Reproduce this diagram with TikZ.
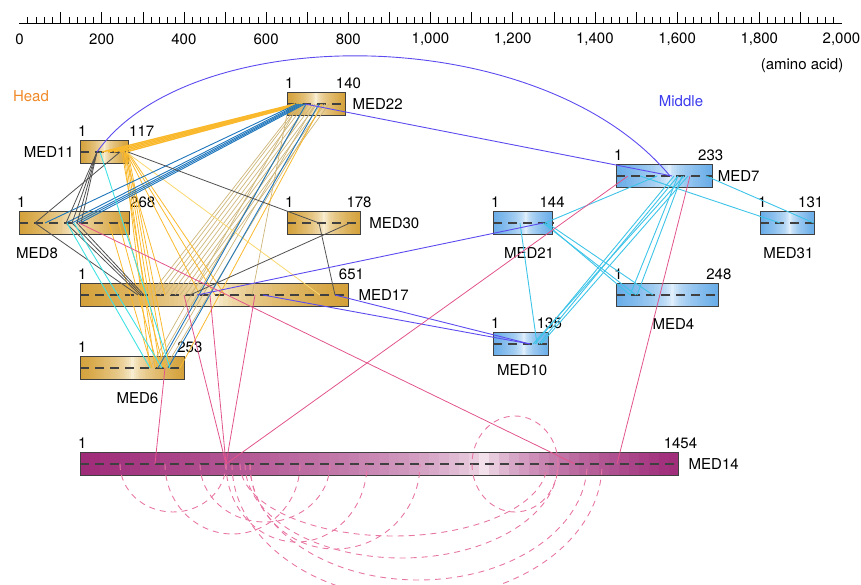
\documentclass[tikz,border=0pt]{standalone}
\usepackage{fontspec}
\setmainfont{TeX Gyre Heros}
\usepackage{tikz}
\usetikzlibrary{positioning, calc, backgrounds}
\definecolor{headgold}{RGB}{212,160,56}
\definecolor{headlight}{RGB}{253,247,230}
\definecolor{midblue}{RGB}{104,172,232}
\definecolor{midlight}{RGB}{238,247,254}
\definecolor{medmag}{RGB}{158,42,120}
\definecolor{medmaglight}{RGB}{249,240,245}
\definecolor{linkorange}{RGB}{250,185,45}
\definecolor{linkyellow}{RGB}{250,215,110}
\definecolor{linkblue}{RGB}{30,118,188}
\definecolor{linktan}{RGB}{206,182,122}
\definecolor{linkgray}{RGB}{80,80,80}
\definecolor{linkcyan}{RGB}{64,226,228}
\definecolor{linksky}{RGB}{62,196,232}
\definecolor{linkpurple}{RGB}{92,76,240}
\definecolor{linkpink}{RGB}{226,84,140}
\definecolor{headtext}{RGB}{240,138,40}
\definecolor{midtext}{RGB}{58,58,238}

% strip gradient: node, edge colour, light colour, position of the light part
\newcommand{\gradfill}[4]{%
  \foreach \i in {0,...,59}{%
    \pgfmathsetmacro{\gpos}{(\i+0.5)/60}%
    \pgfmathsetmacro{\gdist}{\gpos<#4 ? (1-\gpos/#4) : (\gpos-#4)/(1-#4)}%
    \pgfmathtruncatemacro{\gmix}{100*sqrt(\gdist)}%
    \fill[#2!\gmix!#3] ($(#1.south west)!{\i/60}!(#1.south east)$)
      rectangle ($(#1.north west)!{min(1,(\i+1.3)/60)}!(#1.north east)$);
  }}

\begin{document}
\begin{tikzpicture}[x=1pt, y=-1pt, font=\fontsize{15}{18}\selectfont,
    protein/.style={draw=black!75, line width=0.9pt, inner sep=0pt,
      minimum height=23pt, minimum width=#1*0.411pt, anchor=west},
    centerline/.style={draw=black!75, line width=1.1pt, dash pattern=on 9pt off 6pt},
    numlabel/.style={inner sep=0pt},
    protlabel/.style={inner sep=0pt},
    orangelink/.style={draw=linkorange, line width=0.8pt},
    tanlink/.style={draw=linktan, line width=0.7pt},
    bluelink/.style={draw=linkblue, line width=0.9pt},
    graylink/.style={draw=linkgray, line width=0.8pt},
    cyanlink/.style={draw=linkcyan, line width=0.9pt},
    skylink/.style={draw=linksky, line width=0.9pt},
    purplelink/.style={draw=linkpurple, line width=0.9pt},
    pinklink/.style={draw=linkpink, line width=0.8pt},
    loopline/.style={draw=linkpink!80, line width=0.9pt, dash pattern=on 6pt off 5pt}]

  \useasboundingbox (0,0) rectangle (861,585);

  % RULER

  \draw[line width=0.8pt] (19,23) -- (842,23);
  \foreach \a in {20,40,...,1980}
    \draw[line width=0.6pt] ({19.5+0.411*\a},23) -- ++(0,-6);
  \foreach \a in {100,200,...,1900}
    \draw[line width=0.6pt] ({19.5+0.411*\a},23) -- ++(0,-11);
  \foreach \a/\l in {0/0,200/200,400/400,600/600,800/800,1000/{1,000},
      1200/{1,200},1400/{1,400},1600/{1,600},1800/{1,800},2000/{2,000}}
    \node at ({19.5+0.411*\a},39) {\l};
  \node (unit) at (802,66) {(amino acid)};

  \node[text=headtext] (headlabel) at (31,96) {Head};
  \node[text=midtext] (middlelabel) at (681,101) {Middle};

  % PROTEINS

  \node[protein=140] (med22) at (287,104) {};
  \node[protein=117] (med11) at (80,152) {};
  \node[protein=268] (med8) at (19,223) {};
  \node[protein=178] (med30) at (287,223) {};
  \node[protein=651] (med17) at (80,295) {};
  \node[protein=253] (med6) at (80,368) {};
  \node[protein=1454] (med14) at (80,464) {};
  \node[protein=233] (med7) at (616,176) {};
  \node[protein=144] (med21) at (493,223) {};
  \node[protein=131] (med31) at (760,223) {};
  \node[protein=248] (med4) at (616,295) {};
  \node[protein=135] (med10) at (493,344) {};

  \begin{scope}[on background layer]
    \foreach \p in {med22,med11,med8,med30,med17,med6}{\gradfill{\p}{headgold}{headlight}{0.5}}
    \foreach \p in {med7,med21,med31,med4,med10}{\gradfill{\p}{midblue}{midlight}{0.55}}
    \gradfill{med14}{medmag}{medmaglight}{0.68}
  \end{scope}

  \foreach \p in {med22,med11,med8,med30,med17,med6,med14,med7,med21,med31,med4,med10}
    \draw[centerline] (\p.west) -- (\p.east);

  % LABELS

  \node[protlabel, right=7pt of med22] {MED22};
  \node[protlabel, left=6pt of med11] {MED11};
  \node[protlabel, below right=12pt and -3pt of med8.south west] {MED8};
  \node[protlabel, right=8pt of med30] {MED30};
  \node[protlabel, right=10pt of med17] {MED17};
  \node[protlabel, below=12pt of med6, xshift=5pt] {MED6};
  \node[protlabel, right=10pt of med14] {MED14};
  \node[protlabel, right=5pt of med7] {MED7};
  \node[protlabel, below=12pt of med21, xshift=6pt] {MED21};
  \node[protlabel, below=12pt of med31, xshift=1pt] {MED31};
  \node[protlabel, below=11pt of med4, xshift=6pt] {MED4};
  \node[protlabel, below=8pt of med10, xshift=1pt] {MED10};

  \foreach \p in {med22,med11,med8,med30,med17,med6,med14,med7,med21,med31,med4,med10}
    \node[numlabel, above right=3pt and -2pt of \p.north west] {1};
  \node[numlabel, above=3pt of med22.north east, xshift=3pt] {140};
  \node[numlabel, above right=3pt and 0pt of med11.north east] {117};
  \node[numlabel, above right=3pt and 0pt of med8.north east] {268};
  \node[numlabel, above=3pt of med30.north east, xshift=-2pt] {178};
  \node[numlabel, above=3pt of med17.north east, xshift=3pt] {651};
  \node[numlabel, above=3pt of med6.north east, xshift=5pt] {253};
  \node[numlabel, above=3pt of med14.north east, xshift=2pt] {1454};
  \node[numlabel, above=3pt of med7.north east, xshift=-2pt] {233};
  \node[numlabel, above=3pt of med21.north east, xshift=-1pt] {144};
  \node[numlabel, above=3pt of med31.north east, xshift=-4pt] {131};
  \node[numlabel, above=3pt of med4.north east] {248};
  \node[numlabel, above=3pt of med10.north east] {135};

  % HEAD LINKS

  \foreach \a/\b in {70/12,75/14,80/18,85/22,90/26,95/30,100/34,105/38,110/42}
    \draw[tanlink] ([xshift=\b]med22.west) -- ([xshift=\a]med17.west);
  \foreach \a/\b in {70/12,75/20,80/28,85/36}
    \draw[tanlink] ([xshift=\b]med22.west) -- ([xshift=\a]med6.west);
  \draw[tanlink] ([xshift=2]med22.west) -- ([xshift=172]med17.west);

  \foreach \a/\b in {22/8,28/10,34/12,40/14,46/16}
    \draw[orangelink, line width=1.4pt] ([xshift=\a]med11.west) -- ([xshift=\b]med22.west);
  \foreach \a/\b in {44/70,45/75,46/80,47/85,48/90}
    \draw[orangelink] ([xshift=\a]med11.west) -- ([xshift=\b]med6.west);
  \foreach \a/\b in {42/66,44/85,46/120,47/135,48/145}
    \draw[orangelink] ([xshift=\a]med11.west) -- ([xshift=\b]med17.west);
  \foreach \a/\b in {90/72,100/78,106/84}
    \draw[orangelink] ([xshift=\a]med8.west) -- ([xshift=\b]med6.west);
  \draw[orangelink] ([xshift=35]med22.west) -- ([xshift=100]med6.west);
  \draw[draw=linkyellow, line width=0.8pt] ([xshift=46]med11.west) -- ([xshift=240]med17.west);

  \foreach \a/\b in {26/10,47/12,53/14,57/16,61/18}
    \draw[bluelink] ([xshift=\a]med8.west) -- ([xshift=\b]med22.west);
  \draw[bluelink] ([xshift=19]med22.west) -- ([xshift=78]med6.west);
  \draw[bluelink] ([xshift=32]med22.west) -- ([xshift=88]med6.west);

  \foreach \b in {47,53,58,62}
    \draw[graylink] ([xshift=17]med11.west) -- ([xshift=\b]med8.west);
  \draw[graylink] ([xshift=40]med11.west) -- ([xshift=16]med8.west);
  \draw[graylink] ([xshift=48]med11.west) -- ([xshift=32]med30.west);
  \foreach \a/\b in {16/58,47/60,53/62,58/64}
    \draw[graylink] ([xshift=\a]med8.west) -- ([xshift=\b]med17.west);
  \draw[graylink] ([xshift=63]med30.west) -- ([xshift=110]med17.west);
  \draw[graylink] ([xshift=32]med30.west) -- ([xshift=255]med17.west);

  \draw[cyanlink] ([xshift=20]med11.west) -- ([xshift=90]med6.west);
  \draw[cyanlink] ([xshift=48]med8.west) -- ([xshift=70]med6.west);
  \draw[cyanlink] ([xshift=55]med8.west) -- ([xshift=82]med6.west);

  % MIDDLE LINKS

  \draw[skylink] ([xshift=41]med7.west) -- ([xshift=52]med21.west);
  \draw[skylink] ([xshift=24]med7.west) -- ([xshift=20]med31.west);
  \draw[skylink] ([xshift=90]med7.west) -- ([xshift=54]med31.west);
  \draw[skylink] ([xshift=62]med7.west) -- ([xshift=14]med4.west);
  \draw[skylink] ([xshift=66]med7.west) -- ([xshift=21]med4.west);
  \foreach \a/\b in {58/42,62/46,68/40,72/48}
    \draw[skylink] ([xshift=\a]med7.west) -- ([xshift=\b]med10.west);
  \foreach \a/\b in {54/37,52/14,50/20}
    \draw[skylink] ([xshift=\a]med21.west) -- ([xshift=\b]med4.west);
  \draw[skylink] ([xshift=27]med21.west) -- ([xshift=44]med10.west);

  % HEAD-MIDDLE LINKS

  \draw[purplelink] ([xshift=17]med11.west) .. controls (190,20) and (540,20) .. ([xshift=54]med7.west);
  \draw[purplelink] ([xshift=18]med22.west) -- ([xshift=56]med7.west);
  \draw[purplelink] ([xshift=117]med17.west) -- ([xshift=50]med21.west);
  \draw[purplelink] ([xshift=183]med17.west) -- ([xshift=37]med10.west);
  \draw[purplelink] ([xshift=255]med17.west) -- ([xshift=37]med10.west);

  % MED14 LINKS

  \draw[pinklink] ([xshift=85]med6.west) -- ([xshift=75]med14.west);
  \foreach \a in {104,130,175}
    \draw[pinklink] ([xshift=\a]med17.west) -- ([xshift=146]med14.west);
  \draw[pinklink] ([xshift=60]med8.west) -- ([xshift=495]med14.west);
  \draw[pinklink] ([xshift=12]med7.west) -- ([xshift=146]med14.west);
  \draw[pinklink] ([xshift=74]med7.west) -- ([xshift=537]med14.west);

  \foreach \s/\rx/\ry in {40/53/48,85/67.5/70,146/70.5/78,120/65/58,160/153.5/72,
      165/156.5/94,170/168.5/116,152/185/135,170/85/85}
    \draw[loopline] ([xshift=\s]med14.west) arc[start angle=180, end angle=360,
      x radius=\rx pt, y radius=\ry pt];
  \draw[loopline] ([xshift=435]med14.west) ellipse[x radius=43pt, y radius=48pt];

\end{tikzpicture}
\end{document}
